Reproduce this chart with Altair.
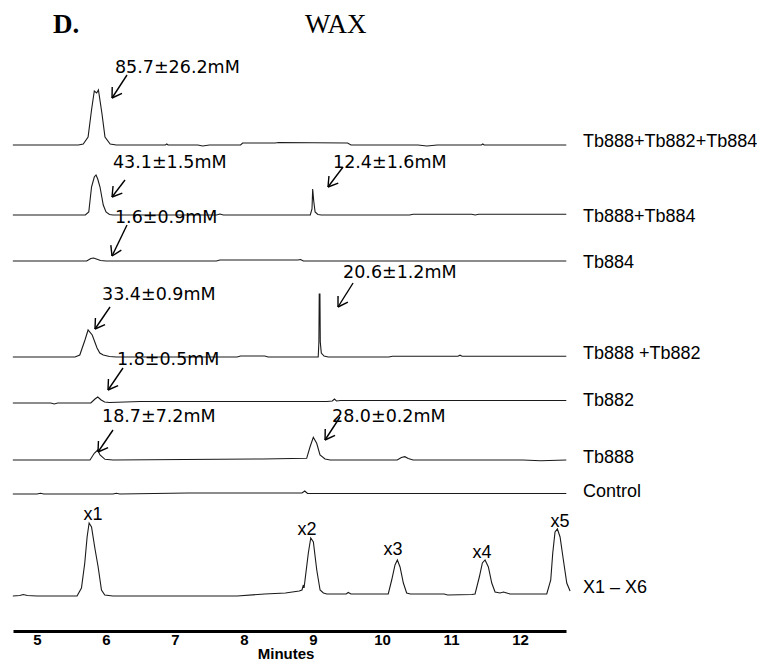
import math
import altair as alt
import pandas as pd

# ---------------- data ----------------
X_MIN, X_MAX = 4.652, 12.666          # minutes shown on the axis
Y_MAX = 623                           # stacked-trace vertical units
PX_PER_MIN = 69.0

tick_values = [5, 6, 7, 8, 9, 10, 11, 12]

trace_names = ["Tb888+Tb882+Tb884", "Tb888+Tb884", "Tb884", "Tb888 +Tb882",
               "Tb882", "Tb888", "Control", "X1 – X6"]
trace_offsets = [486, 416, 370, 274, 228, 171, 137, 35]
trace_label_v = [484, 409, 363, 272, 225, 168, 134, 38]
trace_label_m = 12.913

# Tb888+Tb882+Tb884
t1_min = [4.65, 5.60, 5.67, 5.74, 5.79, 5.83, 5.865, 5.89, 5.94, 5.985, 6.06, 6.15, 6.86, 6.88, 6.90,
          7.33, 7.40, 7.50, 7.95, 7.98, 8.45, 8.50, 9.50, 9.55, 10.52, 10.65, 10.80, 11.44, 11.46, 11.48, 12.67]
t1_sig = [0, 0, 1, 8, 35, 54, 52, 55, 32, 8, 1, 0, 0, 1, 0,
          0, -1, 0, 0, 2, 2, 2.5, 2, 0, 0, -1, 0, 0, 1, 0, 0]
# Tb888+Tb884
t2_min = [4.65, 5.70, 5.75, 5.79, 5.83, 5.855, 5.88, 5.913, 5.96, 6.00, 6.05, 6.10, 7.60, 7.65, 7.70,
          8.96, 8.985, 8.995, 9.01, 9.03, 9.07, 9.12, 10.40, 10.45, 11.30, 11.35, 11.40, 12.67]
t2_sig = [0, 0, 3, 28, 38, 40, 36, 28, 10, 3, 0.5, 0, 0, 1, 0,
          0, 6, 26, 14, 3, 0.5, 0, 0, 0.8, 0.8, 0, 0.8, 0.8]
# Tb884
t3_min = [4.65, 5.72, 5.78, 5.82, 5.86, 5.92, 6.00, 7.60, 7.65, 8.78, 8.82, 8.86, 12.67]
t3_sig = [0, 0, 2.5, 3, 2, 0.5, 0, 0, 1, 1, 1.5, 0, 0]
# Tb888 +Tb882
t4_min = [4.65, 5.55, 5.62, 5.695, 5.74, 5.80, 5.87, 5.91, 5.96, 6.05, 6.15, 7.90, 7.95, 8.30, 8.35,
          9.075, 9.085, 9.09, 9.10, 9.105, 9.12, 9.16, 9.22, 10.10, 10.15, 11.10, 11.13, 11.16, 12.67]
t4_sig = [0, 0, 2, 17, 27, 22, 9, 4, 2, 0.5, 0, 0, 1, 1, 0,
          0, 15, 63, 63, 15, 4, 1, 0, 0, 0.8, 0.8, 1.8, 0.8, 0.8]
# Tb882
t5_min = [4.65, 5.20, 5.25, 5.30, 5.78, 5.84, 5.88, 5.93, 5.98, 6.05, 6.50, 9.20, 9.28, 9.31, 9.34,
          9.40, 12.67]
t5_sig = [0, 0, -1, 0, 0, 4, 6, 3, 1, 0.5, 1.5, 1.5, 2, 4, 2, 2.5, 2.5]
# Tb888
t6_min = [4.65, 5.768, 5.83, 5.88, 5.913, 5.985, 6.10, 8.27, 8.908, 8.956, 9.004, 9.053, 9.101, 9.174,
          9.25, 10.22, 10.28, 10.33, 10.38, 10.45, 12.04, 12.30, 12.67]
t6_sig = [0, 0, 6.7, 10, 5, 0.7, 0, 1, 1.7, 13, 22.7, 16.7, 5, 1,
          0, 0, 2.5, 3.3, 1.5, 0, 0, -0.8, 0]
# Control
t7_min = [4.65, 5.00, 5.05, 5.10, 6.10, 6.15, 6.20, 7.19, 8.84, 8.88, 8.92, 9.00, 12.00, 12.67]
t7_sig = [0, 0, 0.8, 0, 0, 0.8, 0, 1, 1, 3, 0.5, 0.5, 0.5, 0.5]
# X1 - X6 standards
t8_min = [4.65, 4.75, 4.80, 4.86, 5.00, 5.58, 5.644, 5.692, 5.726, 5.755, 5.79, 5.838, 5.886, 5.934,
          5.982, 6.10, 7.90, 8.30, 8.60, 8.80, 8.84, 8.86, 8.87, 8.884, 8.932, 8.967, 9.005, 9.054,
          9.102, 9.15, 9.20, 9.48, 9.51, 9.55, 10.09, 10.14, 10.188, 10.222, 10.261, 10.309, 10.357,
          10.41, 10.90, 10.95, 11.30, 11.348, 11.41, 11.454, 11.493, 11.541, 11.59, 11.638, 11.71,
          11.76, 11.807, 11.855, 12.387, 12.445, 12.474, 12.507, 12.541, 12.58, 12.628, 12.677, 12.725]
t8_sig = [0, 0.5, 1.5, 0.5, 0, 0, 8, 33, 59, 73, 69, 48, 29, 6,
          1, 0, 0, 2, 3, 5, 6, 11, 8, 16, 43, 58, 54, 26,
          6, 3, 2, 2, 3.5, 2, 2, 16, 31, 36, 29, 13, 3,
          2, 2, 1, 1.5, 2, 19, 33, 36, 29, 13, 4, 3,
          4, 3, 2, 2, 16, 43, 64, 67, 59, 36, 13, 5]

trace_minutes = [t1_min, t2_min, t3_min, t4_min, t5_min, t6_min, t7_min, t8_min]
trace_signals = [t1_sig, t2_sig, t3_sig, t4_sig, t5_sig, t6_sig, t7_sig, t8_sig]

# concentration annotations
ann_text = ["85.7±26.2mM", "43.1±1.5mM", "12.4±1.6mM", "1.6±0.9mM", "33.4±0.9mM",
            "20.6±1.2mM", "1.8±0.5mM", "18.7±7.2mM", "28.0±0.2mM"]
ann_m = [6.130, 6.101, 9.290, 6.130, 5.942, 9.435, 6.159, 5.942, 9.275]
ann_v = [558, 463, 463, 408, 331, 353, 266, 209, 209]
arrow_tip_m = [6.087, 6.087, 9.217, 6.087, 5.840, 9.362, 6.029, 5.884, 9.174]
arrow_tip_v = [533, 434, 444, 375, 302, 324, 241, 179, 191]
arrow_tail_m = [6.304, 6.275, 9.435, 6.304, 6.058, 9.580, 6.246, 6.101, 9.391]
arrow_tail_v = [556, 451, 464, 406, 324, 348, 263, 201, 214]

# standard peak labels
peak_names = ["x1", "x2", "x3", "x4", "x5"]
peak_label_m = [5.811, 8.913, 10.159, 11.449, 12.580]
peak_label_v = [111, 96, 76, 73, 104]

# ---------------- tables ----------------
rows = []
for name, off, ms, ss in zip(trace_names, trace_offsets, trace_minutes, trace_signals):
    for i, (m, s) in enumerate(zip(ms, ss)):
        rows.append({"trace": name, "i": i, "m": m, "v": off + s})
traces_df = pd.DataFrame(rows)

seg = []
for tm, tv, am, av in zip(arrow_tip_m, arrow_tip_v, arrow_tail_m, arrow_tail_v):
    seg.append({"m": tm, "v": tv, "m2": am, "v2": av})
    dx = (am - tm) * PX_PER_MIN
    dy = av - tv
    L = math.hypot(dx, dy)
    ux, uy = dx / L, dy / L
    for ang in (math.radians(32), math.radians(-32)):
        rx = ux * math.cos(ang) - uy * math.sin(ang)
        ry = ux * math.sin(ang) + uy * math.cos(ang)
        seg.append({"m": tm, "v": tv, "m2": tm + 11 * rx / PX_PER_MIN, "v2": tv + 11 * ry})
arrows_df = pd.DataFrame(seg)

ann_df = pd.DataFrame({"t": ann_text, "m": ann_m, "v": ann_v})
lab_df = pd.DataFrame({"t": trace_names, "m": [trace_label_m] * len(trace_names), "v": trace_label_v})
peak_df = pd.DataFrame({"t": peak_names, "m": peak_label_m, "v": peak_label_v})

xs = alt.Scale(domain=[X_MIN, X_MAX], nice=False, zero=False)
ys = alt.Scale(domain=[0, Y_MAX], nice=False, zero=False)

SANS = "Liberation Sans"

lines = alt.Chart(traces_df).mark_line(color="#1a1a1a", strokeWidth=1.1, clip=False).encode(
    x=alt.X("m:Q", scale=xs, axis=alt.Axis(
        values=tick_values, format="d", title=None, grid=False, ticks=False,
        domainWidth=3, domainColor="black", labelFont=SANS, labelFontWeight="bold",
        labelFontSize=15, labelColor="black", labelPadding=1, labelFlush=False)),
    y=alt.Y("v:Q", scale=ys, axis=None),
    detail="trace:N",
    order="i:Q",
)

arrows = alt.Chart(arrows_df).mark_rule(color="black", strokeWidth=1.4).encode(
    x=alt.X("m:Q", scale=xs), y=alt.Y("v:Q", scale=ys), x2="m2:Q", y2="v2:Q")

ann = alt.Chart(ann_df).mark_text(align="left", baseline="alphabetic", font="DejaVu Sans",
                                  fontSize=17.5, color="black").encode(
    x=alt.X("m:Q", scale=xs), y=alt.Y("v:Q", scale=ys), text="t:N")

labs = alt.Chart(lab_df).mark_text(align="left", baseline="alphabetic", font=SANS,
                                   fontSize=18, color="black").encode(
    x=alt.X("m:Q", scale=xs), y=alt.Y("v:Q", scale=ys), text="t:N")

peaks = alt.Chart(peak_df).mark_text(align="center", baseline="alphabetic", font=SANS,
                                     fontSize=18, color="black").encode(
    x=alt.X("m:Q", scale=xs), y=alt.Y("v:Q", scale=ys), text="t:N")

panel_df = pd.DataFrame({"t": ["D."], "m": [5.232], "v": [598]})
panel = alt.Chart(panel_df).mark_text(align="left", baseline="alphabetic", font="Liberation Serif",
                                      fontSize=27, fontWeight="bold", color="black").encode(
    x=alt.X("m:Q", scale=xs), y=alt.Y("v:Q", scale=ys), text="t:N")

title_df = pd.DataFrame({"t": ["WAX"], "m": [8.884], "v": [598]})
title = alt.Chart(title_df).mark_text(align="left", baseline="alphabetic", font="Liberation Serif",
                                      fontSize=27, color="black").encode(
    x=alt.X("m:Q", scale=xs), y=alt.Y("v:Q", scale=ys), text="t:N")

xt_df = pd.DataFrame({"t": ["Minutes"], "m": [8.609], "v": [-28]})
xtitle = alt.Chart(xt_df).mark_text(align="center", baseline="alphabetic", font=SANS,
                                    fontSize=15, fontWeight="bold", color="black").encode(
    x=alt.X("m:Q", scale=xs), y=alt.Y("v:Q", scale=ys), text="t:N")

chart = alt.layer(lines, arrows, ann, labs, peaks, panel, title, xtitle).properties(
    width=553, height=Y_MAX,
    autosize=alt.AutoSizeParams(type="none"),
    padding={"left": 5, "top": 0, "right": 191, "bottom": 32},
    background="white",
).configure_view(stroke=None)

chart.save("out.html", embed_options={"renderer": "svg", "actions": False})
